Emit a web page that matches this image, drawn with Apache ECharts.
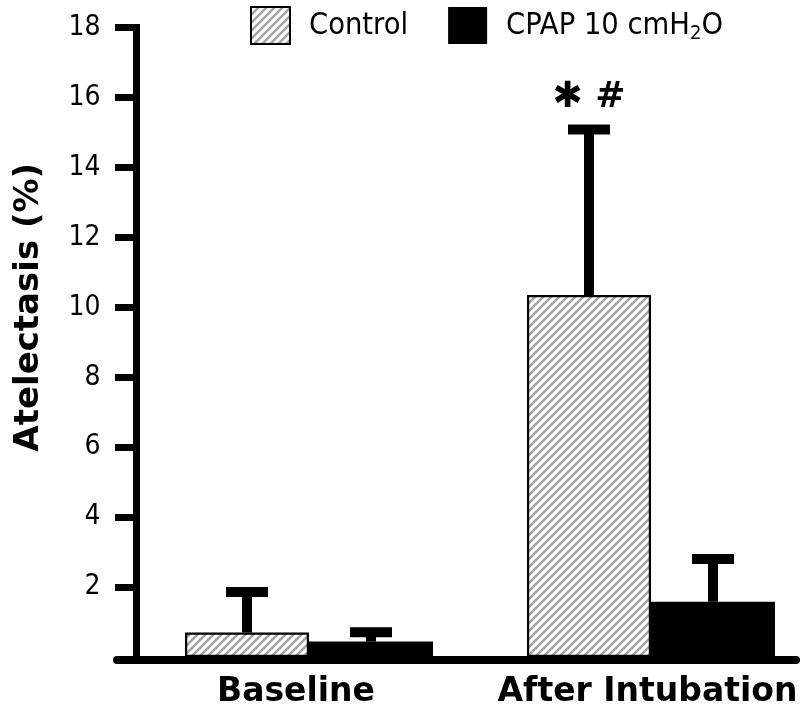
<!DOCTYPE html>
<html>
<head>
<meta charset="utf-8">
<script src="https://cdn.jsdelivr.net/npm/echarts@6/dist/echarts.min.js"></script>
<style>
html,body{margin:0;padding:0;background:#fff;}
#chart{width:808px;height:714px;}
</style>
</head>
<body>
<div id="chart"></div>
<script>
// ---- data ----
const categories = ['Baseline', 'After Intubation'];
const seriesNames = ['Control', 'CPAP 10 cmH2O'];
const controlMean = [0.70, 10.35];
const controlSD = [1.16, 4.73];
const cpapMean = [0.44, 1.58];
const cpapSD = [0.27, 1.22];
const controlNotes = ['', '\u2731 #'];
const cpapNotes = ['', ''];
const yTicks = [2, 4, 6, 8, 10, 12, 14, 16, 18];

// ---- styles ----
const BAR_W = 124;
const REG = '"DejaVu Sans Condensed", "DejaVu Sans", sans-serif';
const BOLD = '"DejaVu Sans", sans-serif';

function makeHatch() {
  const c = document.createElement('canvas');
  c.width = 8; c.height = 8;
  const g = c.getContext('2d');
  g.fillStyle = '#ffffff';
  g.fillRect(0, 0, 8, 8);
  g.strokeStyle = '#a4a4a4';
  g.lineWidth = 2.6;
  g.beginPath();
  g.moveTo(-2, 10); g.lineTo(10, -2);
  g.moveTo(-2, 2); g.lineTo(2, -2);
  g.moveTo(6, 10); g.lineTo(10, 6);
  g.stroke();
  return c;
}
const hatch = { image: makeHatch(), repeat: 'repeat' };

function errData(mean, sd, notes) {
  return mean.map((m, i) => [i, m, m + sd[i], notes[i]]);
}

function errRender(side) {
  return function (params, api) {
    const i = api.value(0);
    const base = api.coord([i, api.value(1)]);
    const top = api.coord([i, api.value(2)]);
    const x = base[0] + side * BAR_W / 2;
    const children = [
      { type: 'rect', shape: { x: x - 5, y: top[1], width: 10, height: base[1] - top[1] }, style: { fill: '#000' } },
      { type: 'rect', shape: { x: x - 21, y: top[1] - 5, width: 42, height: 10 }, style: { fill: '#000' } }
    ];
    const note = (side < 0 ? controlNotes : cpapNotes)[i];
    if (note) {
      children.push({
        type: 'text',
        style: {
          text: note, x: x, y: top[1] - 14,
          align: 'center', verticalAlign: 'bottom',
          font: 'bold 36px ' + BOLD, fill: '#000'
        }
      });
    }
    return { type: 'group', children: children };
  };
}

const chart = echarts.init(document.getElementById('chart'), null, { renderer: 'canvas' });
chart.setOption({
  backgroundColor: '#fff',
  animation: false,
  legend: {
    left: 250, top: 6, padding: 0, icon: 'rect',
    itemWidth: 39, itemHeight: 37, itemGap: 40,
    data: seriesNames,
    formatter: function (n) {
      if (n.indexOf('cmH2O') >= 0) return '{t|CPAP 10 cmH}{s|2}{t|O}';
      return '{t|' + n + '}';
    },
    textStyle: {
      color: '#000', fontFamily: REG, fontSize: 30.5,
      padding: [2, 0, 0, 14],
      rich: {
        t: { fontFamily: REG, fontSize: 30.5, color: '#000' },
        s: { fontFamily: REG, fontSize: 20, color: '#000', padding: [14, 0, 0, 0] }
      }
    }
  },
  grid: [
    { left: 309, width: 342, top: 27.5, height: 629.5, containLabel: false },
    { left: 117, width: 679, top: 27.5, height: 632.5, containLabel: false }
  ],
  xAxis: [
    {
      type: 'category', gridIndex: 0, data: categories, boundaryGap: false,
      axisLine: { show: false }, axisTick: { show: false },
      axisLabel: {
        interval: 0, hideOverlap: false,
        margin: 19, color: '#000',
        fontFamily: BOLD, fontWeight: 'bold', fontSize: 33,
        formatter: function (v, i) { return (i === 0 ? '{l|' : '{r|') + v + '}'; },
        rich: {
          l: { fontFamily: BOLD, fontWeight: 'bold', fontSize: 33, color: '#000', padding: [0, 26, 0, 0] },
          r: { fontFamily: BOLD, fontWeight: 'bold', fontSize: 33, color: '#000', padding: [0, 7, 0, 0] }
        }
      }
    },
    {
      type: 'value', gridIndex: 1, min: 0, max: 1,
      axisLine: { show: true, onZero: false, lineStyle: { color: '#000', width: 8 } },
      axisTick: { show: false }, axisLabel: { show: false }, splitLine: { show: false }
    }
  ],
  yAxis: [
    {
      type: 'value', gridIndex: 0, min: 0, max: 18, interval: 2, offset: 172.5,
      name: 'Atelectasis (%)', nameLocation: 'middle', nameGap: 90,
      nameTextStyle: { color: '#000', fontFamily: BOLD, fontWeight: 'bold', fontSize: 34, padding: [0, 0, 0, 70] },
      axisLine: { show: true, lineStyle: { color: '#000', width: 7, cap: 'square' } },
      axisTick: { show: true, length: 21.5, customValues: yTicks, lineStyle: { color: '#000', width: 7 } },
      axisLabel: {
        margin: 36, color: '#000', fontFamily: REG, fontSize: 28,
        customValues: yTicks,
        formatter: function (v) { return v === 0 ? '' : String(v); }
      },
      splitLine: { show: false }
    },
    { type: 'value', gridIndex: 1, min: 0, max: 1, show: false }
  ],
  series: [
    {
      name: seriesNames[0], type: 'bar', xAxisIndex: 0, yAxisIndex: 0,
      barWidth: BAR_W, barGap: '0%', clip: false,
      itemStyle: { color: hatch, borderColor: '#000', borderWidth: 2.2 },
      data: controlMean
    },
    {
      name: seriesNames[1], type: 'bar', xAxisIndex: 0, yAxisIndex: 0,
      barWidth: BAR_W, barGap: '0%', clip: false,
      itemStyle: { color: '#000', borderColor: '#000', borderWidth: 0 },
      data: cpapMean
    },
    {
      type: 'custom', xAxisIndex: 0, yAxisIndex: 0, z: 5, clip: false,
      renderItem: errRender(-1), data: errData(controlMean, controlSD, controlNotes),
      encode: { x: 0, y: [1, 2] }, silent: true
    },
    {
      type: 'custom', xAxisIndex: 0, yAxisIndex: 0, z: 5, clip: false,
      renderItem: errRender(1), data: errData(cpapMean, cpapSD, cpapNotes),
      encode: { x: 0, y: [1, 2] }, silent: true
    }
  ]
});
</script>
</body>
</html>
